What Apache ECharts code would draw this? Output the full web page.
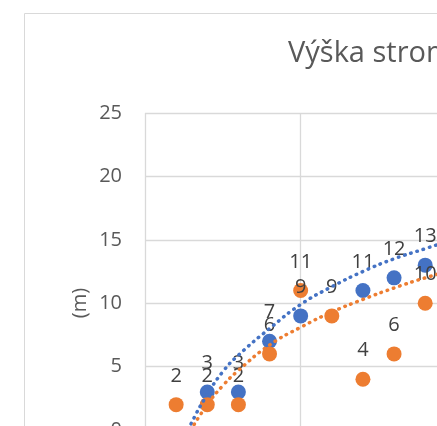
<!DOCTYPE html>
<html>
<head>
<meta charset="utf-8">
<script src="https://cdn.jsdelivr.net/npm/echarts@6/dist/echarts.min.js"></script>
<style>
  html, body { margin: 0; padding: 0; background: #fff; }
  #box { width: 437px; height: 426px; }
</style>
</head>
<body>
<div id="box"></div>
<script>
// hodnoty
var blueX = [2, 3, 4, 5, 7, 8, 9];
var blueY = [3, 3, 7, 9, 11, 12, 13];
var orangeX = [1, 2, 3, 4, 5, 6, 7, 8, 9];
var orangeY = [2, 2, 2, 6, 11, 9, 4, 6, 10];

// spojnice trendu (tečkované), body
var blueTrendX = [1.42, 1.5, 2, 2.5, 3, 4, 5, 6, 7, 8, 9, 10];
var blueTrendY = [0, 0.6, 2.8, 4.6, 5.9, 8.0, 9.9, 11.3, 12.5, 13.5, 14.3, 15.1];
var orangeTrendX = [1.47, 2, 2.5, 3, 4, 5, 6, 7, 8, 9, 10];
var orangeTrendY = [0, 2.0, 3.5, 4.7, 6.7, 8.1, 9.3, 10.3, 11.2, 12.0, 12.7];

var yTicks = [0, 5, 10, 15, 20, 25];

function pairs(xs, ys) {
  return xs.map(function (x, i) { return [x, ys[i]]; });
}

var myChart = echarts.init(document.getElementById('box'));

var labelOption = {
  show: true,
  position: 'top',
  distance: 11,
  color: '#404040',
  fontSize: 20,
  fontFamily: 'Open Sans',
  formatter: function (p) { return p.value[1]; }
};

var option = {
  animation: false,
  title: {
    text: 'Výška stromů',
    left: 283,
    top: 34,
    textStyle: { color: '#595959', fontSize: 29, fontWeight: 'normal', fontFamily: 'Open Sans' }
  },
  graphic: [
    {
      type: 'rect',
      shape: { x: 24.5, y: 13.5, width: 600, height: 600 },
      style: { fill: 'none', stroke: '#d9d9d9', lineWidth: 1 },
      silent: true
    },
    {
      type: 'text',
      x: 80,
      y: 303,
      rotation: Math.PI / 2,
      style: {
        text: '(m)',
        fill: '#595959',
        fontSize: 20,
        fontFamily: 'Open Sans',
        align: 'center',
        verticalAlign: 'middle'
      }
    }
  ],
  grid: { left: 145, top: 113, width: 467, height: 317, outerBoundsMode: 'none', containLabel: false },
  xAxis: {
    type: 'value',
    min: 0,
    max: 15,
    interval: 5,
    axisLine: { show: false },
    axisTick: { show: false },
    axisLabel: { show: false },
    splitLine: { show: true, lineStyle: { color: '#d9d9d9', width: 1.3 } }
  },
  yAxis: {
    type: 'value',
    min: yTicks[0],
    max: yTicks[yTicks.length - 1],
    interval: 5,
    axisLine: { show: false },
    axisTick: { show: false },
    axisLabel: { color: '#595959', fontSize: 20, fontFamily: 'Open Sans', margin: 23 },
    splitLine: { show: true, lineStyle: { color: '#d9d9d9', width: 1.3 } }
  },
  series: [
    {
      name: 'modrá',
      type: 'scatter',
      symbolSize: 15,
      itemStyle: { color: '#4472C4', opacity: 1 },
      label: labelOption,
      data: pairs(blueX, blueY),
      z: 2
    },
    {
      name: 'oranžová',
      type: 'scatter',
      symbolSize: 15,
      itemStyle: { color: '#ED7D31', opacity: 1 },
      label: labelOption,
      data: pairs(orangeX, orangeY),
      z: 2
    },
    {
      name: 'trend modrá',
      type: 'line',
      smooth: true,
      showSymbol: false,
      lineStyle: { color: '#4472C4', width: 3.5, type: [0.5, 6], cap: 'round' },
      data: pairs(blueTrendX, blueTrendY),
      z: 3
    },
    {
      name: 'trend oranžová',
      type: 'line',
      smooth: true,
      showSymbol: false,
      lineStyle: { color: '#ED7D31', width: 3.5, type: [0.5, 6], cap: 'round' },
      data: pairs(orangeTrendX, orangeTrendY),
      z: 3
    }
  ]
};

myChart.setOption(option);
</script>
</body>
</html>
